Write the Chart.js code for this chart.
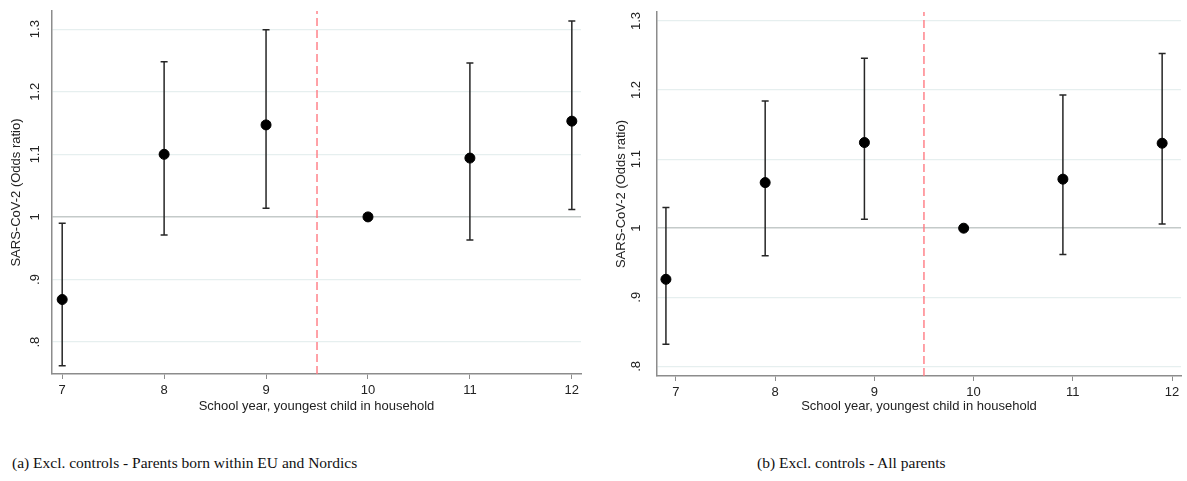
<!DOCTYPE html>
<html>
<head>
<meta charset="utf-8">
<script src="https://cdn.jsdelivr.net/npm/chart.js@4.4.1/dist/chart.umd.min.js"></script>
<style>
  html, body { margin: 0; padding: 0; background: #fff; }
  body { width: 1187px; height: 481px; position: relative; overflow: hidden; }
  .panel { position: absolute; top: 0; }
  .cap { position: absolute; top: 454px; font-family: "Liberation Serif", "Times New Roman", serif; font-size: 15.5px; color: #111; white-space: nowrap; }
</style>
</head>
<body>
<canvas id="left" class="panel" style="left:0px" width="590" height="420"></canvas>
<canvas id="right" class="panel" style="left:590px" width="597" height="420"></canvas>
<div class="cap" style="left:12px">(a) Excl. controls - Parents born within EU and Nordics</div>
<div class="cap" style="left:757px">(b) Excl. controls - All parents</div>
<script>
// school years and odds ratios
const years = [7, 8, 9, 10, 11, 12];
const euOdds = [0.868, 1.100, 1.147, 1.000, 1.094, 1.153];
const euLow = [0.762, 0.971, 1.014, null, 0.963, 1.012];
const euHigh = [0.990, 1.248, 1.299, null, 1.246, 1.313];

// panel b is plotted slightly left of each integer year
const allYears = [6.9, 7.9, 8.9, 9.9, 10.9, 11.9];
const allOdds = [0.926, 1.066, 1.124, 1.000, 1.071, 1.123];
const allLow = [0.832, 0.960, 1.013, null, 0.962, 1.006];
const allHigh = [1.030, 1.184, 1.246, null, 1.193, 1.253];

const xTicks = [7, 8, 9, 10, 11, 12];
const yTicks = [0.8, 0.9, 1.0, 1.1, 1.2, 1.3];
const yTickLabels = ['.8', '.9', '1', '1.1', '1.2', '1.3'];
const cutoff = 9.5;

const xTitle = 'School year, youngest child in household';
const yTitle = 'SARS-CoV-2 (Odds ratio)';

const axisGrey = '#8c8c8c';
const textCol = '#222';

// error bars with caps, drawn under the points
const errorBars = {
    id: 'errorBars',
    beforeDatasetsDraw(chart, args, opts) {
        const { ctx, scales: { x, y } } = chart;
        ctx.save();
        ctx.strokeStyle = '#262626';
        ctx.lineWidth = 1.5;
        opts.xs.forEach((xv, i) => {
            if (opts.low[i] == null) return;
            const px = x.getPixelForValue(xv);
            const lo = y.getPixelForValue(opts.low[i]);
            const hi = y.getPixelForValue(opts.high[i]);
            ctx.beginPath();
            ctx.moveTo(px, lo); ctx.lineTo(px, hi);
            ctx.moveTo(px - 3.5, lo); ctx.lineTo(px + 3.5, lo);
            ctx.moveTo(px - 3.5, hi); ctx.lineTo(px + 3.5, hi);
            ctx.stroke();
        });
        ctx.restore();
    }
};

// rotated y tick labels, Stata style
const yLabels = {
    id: 'yLabels',
    afterDraw(chart, args, opts) {
        const { ctx, scales: { y }, chartArea } = chart;
        ctx.save();
        ctx.fillStyle = textCol;
        ctx.font = '13px "Liberation Sans", Arial, sans-serif';
        ctx.textAlign = 'center';
        ctx.textBaseline = 'middle';
        yTicks.forEach((v, i) => {
            const py = y.getPixelForValue(v);
            ctx.save();
            ctx.translate(chartArea.left - opts.gap, py);
            ctx.rotate(-Math.PI / 2);
            ctx.fillText(yTickLabels[i], 0, 0);
            ctx.restore();
        });
        ctx.restore();
    }
};

function makeChart(id, xs, odds, low, high, cfg) {
    const ctx = document.getElementById(id).getContext('2d');
    return new Chart(ctx, {
        type: 'scatter',
        data: {
            datasets: [
                {
                    data: xs.map((v, i) => ({ x: v, y: odds[i] })),
                    backgroundColor: '#000',
                    borderColor: '#000',
                    pointRadius: 5,
                    pointHoverRadius: 5,
                    order: 1,
                },
                {
                    type: 'line',
                    data: [{ x: cutoff, y: cfg.yMin }, { x: cutoff, y: cfg.yMax }],
                    borderColor: '#ff7a82',
                    borderWidth: 1.4,
                    borderDash: [8, 4],
                    pointRadius: 0,
                    order: 2,
                },
            ],
        },
        options: {
            responsive: false,
            animation: false,
            devicePixelRatio: 1,
            layout: { padding: { top: cfg.top, right: cfg.right, left: 0, bottom: 0 } },
            plugins: {
                legend: { display: false },
                tooltip: { enabled: false },
                errorBars: { xs: xs, low: low, high: high },
                yLabels: { gap: cfg.labelGap },
            },
            scales: {
                x: {
                    type: 'linear',
                    min: cfg.xMin,
                    max: cfg.xMax,
                    afterBuildTicks: (s) => { s.ticks = xTicks.map(v => ({ value: v })); },
                    afterFit: (s) => { s.height = cfg.xHeight; },
                    grid: { display: true, drawOnChartArea: false, drawTicks: true, tickLength: 5, color: axisGrey, lineWidth: 1 },
                    border: { display: true, color: axisGrey, width: 1.5 },
                    ticks: {
                        color: textCol,
                        padding: 4,
                        maxRotation: 0,
                        font: { family: '"Liberation Sans", Arial, sans-serif', size: 13 },
                    },
                    title: {
                        display: true,
                        text: xTitle,
                        color: textCol,
                        padding: { top: 0, bottom: 6 },
                        font: { family: '"Liberation Sans", Arial, sans-serif', size: 13 },
                    },
                },
                y: {
                    type: 'linear',
                    min: cfg.yMin,
                    max: cfg.yMax,
                    afterBuildTicks: (s) => { s.ticks = yTicks.map(v => ({ value: v })); },
                    afterFit: (s) => { s.width = cfg.yWidth; },
                    grid: {
                        drawTicks: false,
                        color: (c) => (c.tick && Math.abs(c.tick.value - 1) < 1e-9) ? '#c4cac9' : '#e6efef',
                        lineWidth: (c) => (c.tick && Math.abs(c.tick.value - 1) < 1e-9) ? 1.5 : 1.2,
                    },
                    border: { display: true, color: axisGrey, width: 1.5 },
                    ticks: { display: false },
                    title: {
                        display: true,
                        text: yTitle,
                        color: textCol,
                        padding: { top: cfg.titlePad, bottom: 0 },
                        font: { family: '"Liberation Sans", Arial, sans-serif', size: 13 },
                    },
                },
            },
        },
        plugins: [errorBars, yLabels],
    });
}

makeChart('left', years, euOdds, euLow, euHigh, {
    xMin: 6.9, xMax: 12.09, yMin: 0.749, yMax: 1.329,
    top: 11, right: 9, yWidth: 52, xHeight: 46, labelGap: 17, titlePad: 9,
});
makeChart('right', allYears, allOdds, allLow, allHigh, {
    xMin: 6.81, xMax: 12.09, yMin: 0.786, yMax: 1.313,
    top: 12, right: 1, yWidth: 67, xHeight: 44, labelGap: 21, titlePad: 24,
});
</script>
</body>
</html>
